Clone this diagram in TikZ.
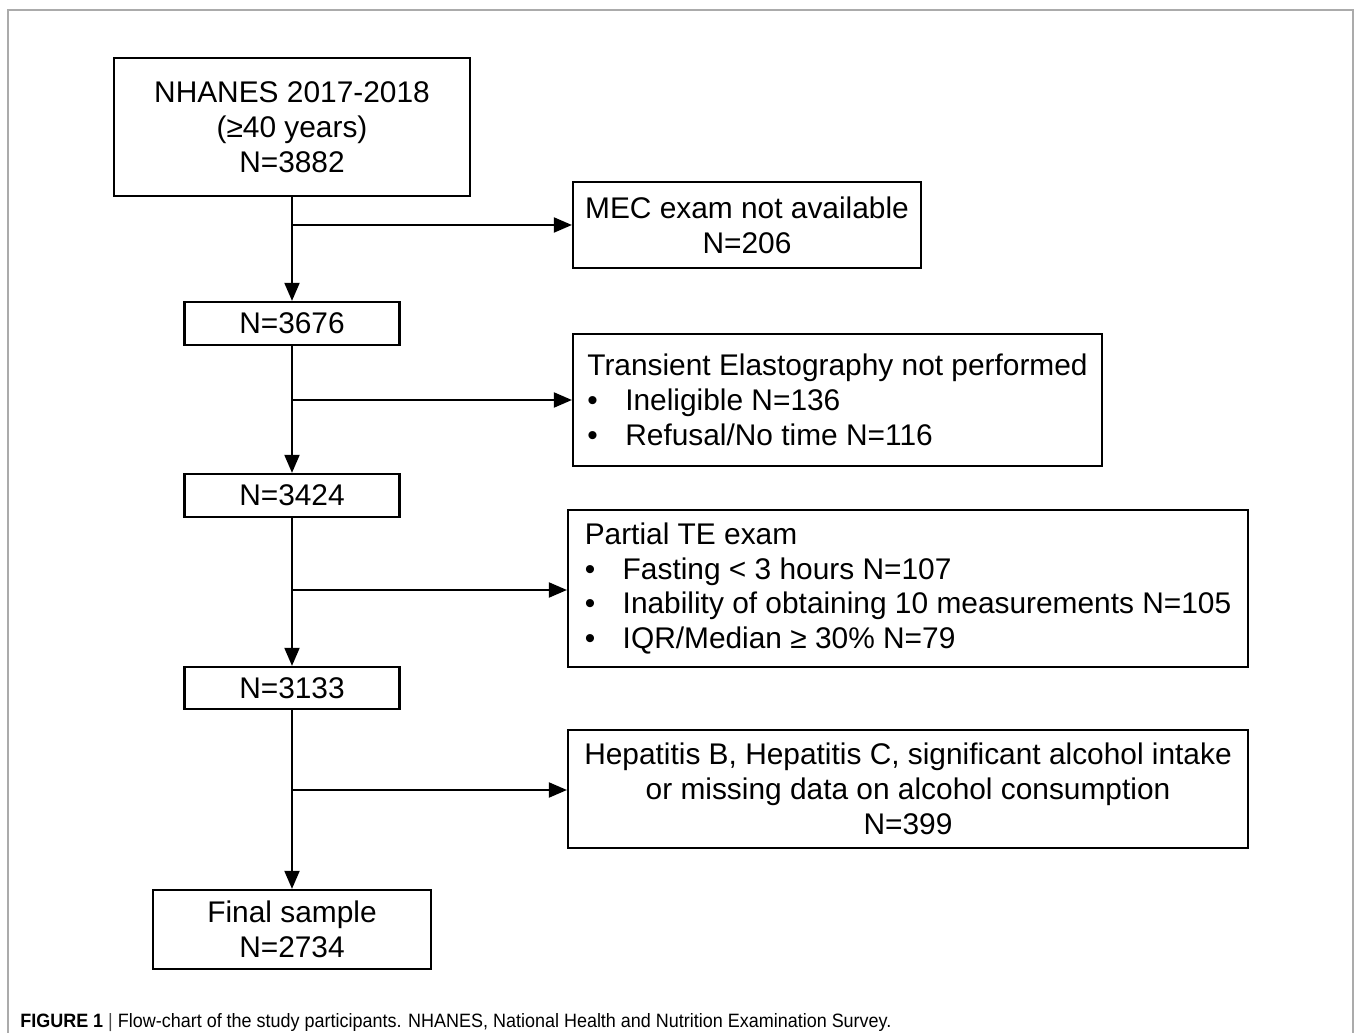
\documentclass[tikz,border=0pt]{standalone}
\usepackage{fontspec}
\setmainfont{Liberation Sans}
\newfontfamily\capfont[FakeStretch=0.93]{Liberation Sans}
\usetikzlibrary{arrows.meta}
\newcommand{\bitem}{\makebox[0.76cm][l]{\textbullet}}
\begin{document}
\begin{tikzpicture}[
		x=0.02cm, y=-0.02cm,
		font=\fontsize{17}{19.9}\selectfont,
		box/.style={draw, line width=1.3pt, align=center, inner sep=0pt},
		listbox/.style={box, align=left},
		arrow/.style={line width=1.1pt, -{Triangle[length=0.36cm,width=0.3cm]}}
	]
	\useasboundingbox (0,0) rectangle (1354,1033);
	\draw[black!33, line width=0.8pt] (8,1033) -- (8,10) -- (1353,10) -- (1353,1033);

	% main column
	\node[box, minimum width=7.12cm, minimum height=2.76cm] (nhanes) at (292,127) {NHANES 2017-2018\\(≥40 years)\\N=3882};
	\node[box, minimum width=4.3cm, minimum height=0.86cm] (n3676) at (292,323.5) {N=3676};
	\node[box, minimum width=4.3cm, minimum height=0.86cm] (n3424) at (292,495.5) {N=3424};
	\node[box, minimum width=4.3cm, minimum height=0.84cm] (n3133) at (292,688) {N=3133};
	\node[box, minimum width=5.56cm, minimum height=1.58cm] (final) at (292,929.5) {Final sample\\N=2734};

	% exclusions
	\node[box, minimum width=6.96cm, minimum height=1.72cm] (mec) at (747,225) {MEC exam not available\\N=206};
	\node[listbox, minimum width=10.58cm, minimum height=2.64cm] (te) at (837.5,400) {Transient Elastography not performed\\\bitem Ineligible N=136\\\bitem Refusal/No time N=116};
	\node[listbox, minimum width=13.6cm, minimum height=3.14cm] (partial) at (908,588.5) {Partial TE exam\\\bitem Fasting < 3 hours N=107\\\bitem Inability of obtaining 10 measurements N=105\\\bitem IQR/Median ≥ 30\% N=79};
	\node[box, minimum width=13.6cm, minimum height=2.36cm] (hep) at (908,789) {Hepatitis B, Hepatitis C, significant alcohol intake\\or missing data on alcohol consumption\\N=399};

	\draw[arrow] (nhanes) -- (n3676);
	\draw[arrow] (n3676) -- (n3424);
	\draw[arrow] (n3424) -- (n3133);
	\draw[arrow] (n3133) -- (final);

	\coordinate (b1) at (nhanes.south |- mec.west);
	\coordinate (b2) at (nhanes.south |- te.west);
	\coordinate (b3) at (nhanes.south |- 0,590);
	\coordinate (b4) at (nhanes.south |- 0,790);
	\draw[arrow] (b1) -- (mec.west);
	\draw[arrow] (b2) -- (te.west);
	\draw[arrow] (b3) -- (b3 -| partial.west);
	\draw[arrow] (b4) -- (b4 -| hep.west);

	\node[anchor=base west, inner sep=0pt, font=\capfont\fontsize{11}{13}\selectfont] (caption) at (20,1027)
		{\textbf{FIGURE 1} \textcolor{black!70}{|} Flow-chart of the study participants. NHANES, National Health and Nutrition Examination Survey.};
\end{tikzpicture}
\end{document}
